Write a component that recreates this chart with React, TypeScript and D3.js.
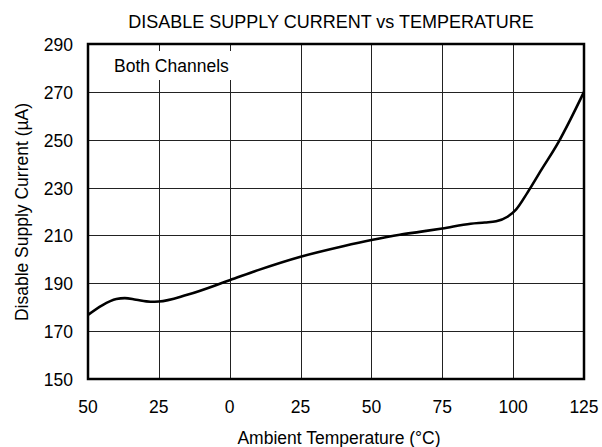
import React from 'react';
import * as d3 from 'd3';

const temps = [-50, -45, -40, -37, -33, -28, -25, -15, 0, 10, 25, 40, 50, 60, 67, 75, 85, 90, 94, 98, 101, 105, 110, 116, 120, 125];
const current = [176.8, 180.8, 183.4, 183.8, 183.1, 182.3, 182.4, 185.2, 191.3, 195.5, 201.1, 205.5, 208.1, 210.3, 211.5, 212.9, 214.9, 215.4, 215.9, 217.8, 220.8, 227.8, 237.5, 249.0, 258.0, 270];

const xTicks = [-50, -25, 0, 25, 50, 75, 100, 125];
const xTickLabels = ['50', '25', '0', '25', '50', '75', '100', '125'];
const yTicks = [150, 170, 190, 210, 230, 250, 270, 290];

const W = 602;
const H = 447;
const font = '"Liberation Sans", Arial, sans-serif';

const App: React.FC = () => {
  const x = d3.scaleLinear().domain([-50, 125]).range([88, 584]);
  const y = d3.scaleLinear().domain([150, 290]).range([379, 44]);

  const pts: [number, number][] = temps.map((t, i) => [t, current[i]]);
  const line = d3.line<[number, number]>()
    .x(d => x(d[0]))
    .y(d => y(d[1]))
    .curve(d3.curveMonotoneX);

  return (
    <svg width={W} height={H} style={{ position: 'absolute', left: 0, top: 0, background: '#fff' }} fontFamily={font}>
      {/* grid */}
      {xTicks.slice(1, -1).map(t => (
        <line key={'gx' + t} x1={Math.round(x(t)) + 0.5} x2={Math.round(x(t)) + 0.5} y1={y(290)} y2={y(150)} stroke="#222" strokeWidth={1} />
      ))}
      {yTicks.slice(1, -1).map(v => (
        <line key={'gy' + v} x1={x(-50)} x2={x(125)} y1={Math.round(y(v)) + 0.5} y2={Math.round(y(v)) + 0.5} stroke="#222" strokeWidth={1} />
      ))}

      {/* label box */}
      <rect x={100} y={51} width={142} height={29} fill="#fff" />
      <text x={114} y={72} fontSize={17.5} fill="#000">Both Channels</text>

      {/* curve */}
      <path d={line(pts) ?? ''} fill="none" stroke="#000" strokeWidth={2.6} strokeLinejoin="round" />

      {/* frame */}
      <rect x={x(-50)} y={y(290)} width={x(125) - x(-50)} height={y(150) - y(290)} fill="none" stroke="#000" strokeWidth={2.5} />

      {/* ticks */}
      {yTicks.map(v => (
        <text key={'yl' + v} x={73} y={y(v) + 7} fontSize={17.5} textAnchor="end" fill="#000">{v}</text>
      ))}
      {xTicks.map((t, i) => (
        <text key={'xl' + t} x={x(t)} y={413} fontSize={17.5} textAnchor="middle" fill="#000">{xTickLabels[i]}</text>
      ))}

      {/* titles */}
      <text x={331} y={27.5} fontSize={18} textAnchor="middle" fill="#000">DISABLE SUPPLY CURRENT vs TEMPERATURE</text>
      <text x={339} y={444} fontSize={17.5} textAnchor="middle" fill="#000">Ambient Temperature (°C)</text>
      <text transform={`translate(28, 212) rotate(-90)`} fontSize={17.5} textAnchor="middle" fill="#000">Disable Supply Current (µA)</text>
    </svg>
  );
};

export default App;
